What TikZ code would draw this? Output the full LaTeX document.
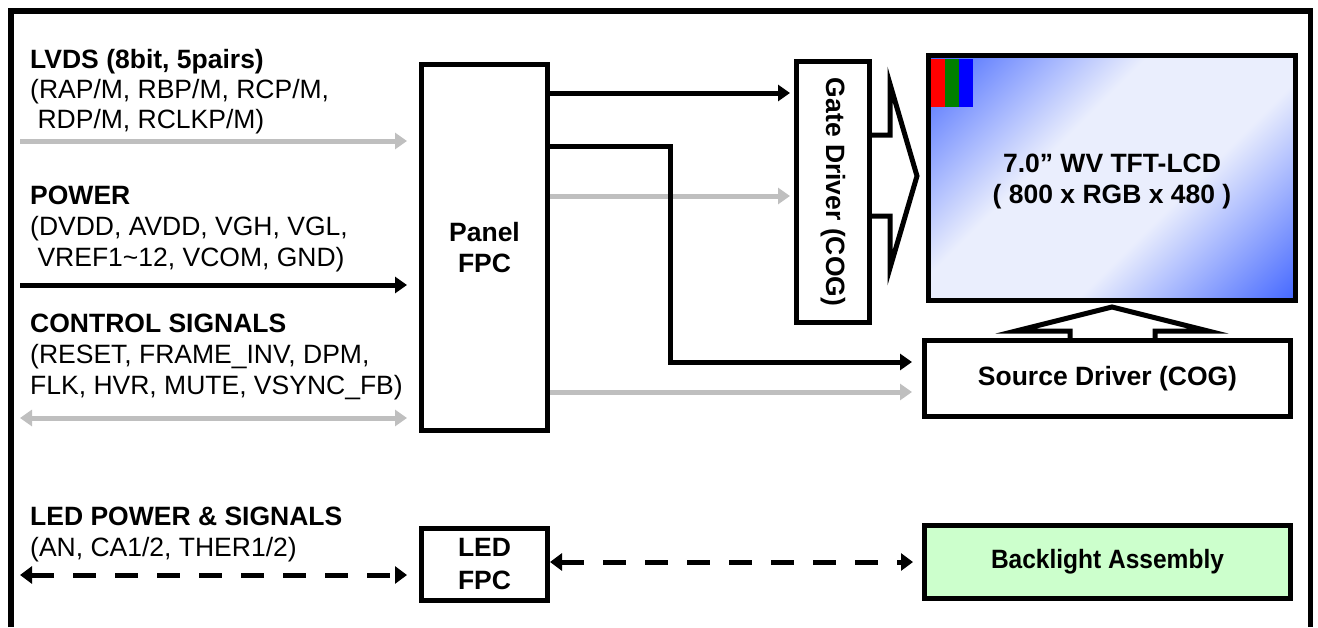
\documentclass[tikz,border=0pt]{standalone}
\usepackage{fontspec}
\setmainfont{Liberation Sans}
\newfontfamily\narrowsans[FakeStretch=0.925]{Liberation Sans}
\usetikzlibrary{arrows.meta}
\definecolor{lgray}{RGB}{191,191,191}
\definecolor{lcdblue}{RGB}{64,100,255}
\definecolor{lcdlight}{RGB}{234,238,253}
\definecolor{blgreen}{RGB}{204,255,204}
\pgfdeclarehorizontalshading{lcdshade}{100bp}{color(0bp)=(lcdblue); color(14bp)=(lcdblue); color(40bp)=(lcdlight); color(60bp)=(lcdlight); color(86bp)=(lcdblue); color(100bp)=(lcdblue)}
\begin{document}
\begin{tikzpicture}[x=1pt,y=-1pt,
  txt/.style={font=\fontsize{26.5}{31}\selectfont},
  box/.style={draw, line width=5pt, inner sep=0pt, align=center,
    font=\fontsize{26.5}{31}\selectfont\bfseries},
  lbl/.style={anchor=base west, align=left, inner sep=0pt,
    font=\fontsize{26.5}{31}\selectfont},
  tipb/.style={-{Triangle[length=12pt,width=16pt]}},
  blk/.style={line width=5pt, tipb},
  gry/.style={line width=5pt, draw=lgray, tipb},
  dsh/.style={line width=5pt, dash pattern=on 23pt off 19pt,
    {Triangle[length=12pt,width=17pt]}-{Triangle[length=12pt,width=17pt]}},
  hollow/.style={line width=5pt, line join=miter}
]
\useasboundingbox (0,0) rectangle (1318,627);
% outer frame (open at the bottom)
\draw[line width=5.5pt] (10.8,627) -- (10.8,11) -- (1310.5,11) -- (1310.5,627);

% boxes
\node[box, minimum width=126pt, minimum height=366pt] (fpc) at (484.5,247.5) {Panel\\FPC};
\node[box, minimum width=73pt, minimum height=261pt] (gate) at (833,192) {};
\node[txt, font=\fontsize{26.5}{31}\selectfont\bfseries, rotate=-90] (gatetxt) at (gate.center) {Gate Driver (COG)};
\node[box, minimum width=367pt, minimum height=245pt, shade, shading=lcdshade, shading angle=-45,
  font=\fontsize{26.5}{32}\selectfont\bfseries] (lcd) at (1112,178) {};
\node[txt, font=\fontsize{26.5}{31}\selectfont\bfseries, align=center, anchor=base] (lcdtxt) at (1112,203) {7.0” WV TFT-LCD\\( 800 x RGB x 480 )};
\node[box, minimum width=366pt, minimum height=76pt] (src) at (1107.5,378.5) {Source Driver (COG)};
\node[box, minimum width=126pt, minimum height=72pt,
  font=\fontsize{26.5}{33}\selectfont\bfseries] (ledfpc) at (484.5,564.5) {LED\\FPC};
\node[box, fill=blgreen, minimum width=366pt, minimum height=73pt,
  font=\narrowsans\fontsize{26.5}{31}\selectfont\bfseries] (bl) at (1107.5,562) {Backlight Assembly};

% RGB pixel marks
\fill[red] (931,59) rectangle (945,107);
\fill[green!50!black] (945,59) rectangle (959,107);
\fill[blue] (959,59) rectangle (973,107);

% left labels (base anchor = last line's baseline)
\node[lbl, font=\fontsize{26.5}{30}\selectfont] (lvds) at (30,128) {\textbf{LVDS (8bit, 5pairs)}\\(RAP/M, RBP/M, RCP/M,\\\ RDP/M, RCLKP/M)};
\node[lbl] (power) at (30,266) {\textbf{POWER}\\(DVDD, AVDD, VGH, VGL,\\\ VREF1\textasciitilde12, VCOM, GND)};
\node[lbl] (ctrl) at (30,394) {\textbf{CONTROL SIGNALS}\\(RESET, FRAME\_INV, DPM,\\FLK, HVR, MUTE, VSYNC\_FB)};
\node[lbl] (led) at (30,556) {\textbf{LED POWER \& SIGNALS}\\(AN, CA1/2, THER1/2)};

% left connectors
\coordinate (aL1) at (20,141);
\coordinate (aL2) at (20,285);
\coordinate (aL3) at (20,418);
\coordinate (aL4) at (20,575);
\draw[gry, shorten >=12pt] (aL1) -- (aL1 -| fpc.west);
\draw[blk, shorten >=12pt] (aL2) -- (aL2 -| fpc.west);
\draw[gry, {Triangle[length=12pt,width=16pt]}-{Triangle[length=12pt,width=16pt]}, shorten >=12pt] (aL3) -- (aL3 -| fpc.west);
\draw[dsh, shorten >=12pt] (aL4) -- (aL4 -| ledfpc.west);

% right connectors
\coordinate (r1) at (0,93);
\coordinate (r2) at (0,196);
\coordinate (bendA) at (670,146);
\coordinate (bendB) at (670,362);
\coordinate (r4) at (0,392);
\draw[blk, shorten >=4pt] (fpc.east |- r1) -- (gate.west |- r1);
\draw[gry, shorten >=4pt] (fpc.east |- r2) -- (gate.west |- r2);
\draw[blk, line join=miter, shorten >=10pt] (fpc.east |- bendA) -- (bendA) -- (bendB) -- (src.west |- bendB);
\draw[gry, shorten >=10pt] (fpc.east |- r4) -- (src.west |- r4);
\draw[dsh, shorten >=9pt] (bl.west -| ledfpc.east) -- (bl.west);

% hollow block arrows
\draw[hollow] (870,135) -- (890,135) -- (890,84) -- (917,176) -- (890,268) -- (890,216) -- (870,216);
\draw[hollow] (1070,340) -- (1070,331) -- (1016,331) -- (1112,307) -- (1208,331) -- (1155,331) -- (1155,340);
\end{tikzpicture}
\end{document}
